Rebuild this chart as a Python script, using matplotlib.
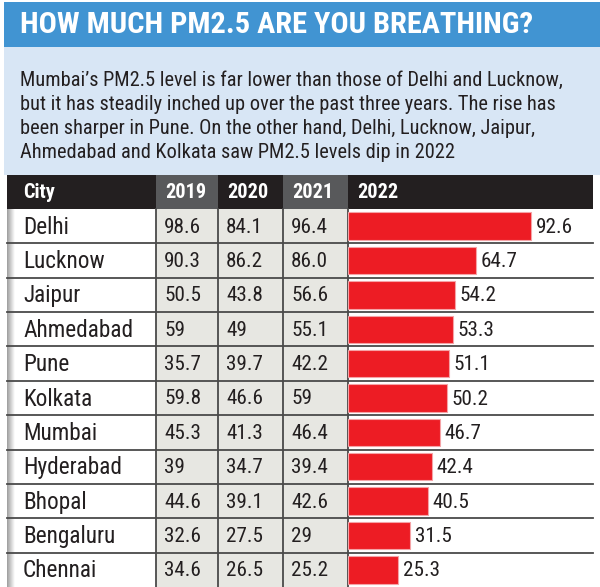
import numpy as np
import matplotlib
matplotlib.use('Agg')
from matplotlib import pyplot as plt
from matplotlib import font_manager as fm
from matplotlib.patches import Rectangle

# pick a narrow face if one is installed
names = {f.name for f in fm.fontManager.ttflist}
narrow = [n for n in ['Roboto Condensed', 'Liberation Sans Narrow', 'DejaVu Sans Condensed',
                      'Open Sans Condensed', 'Noto Sans Condensed', 'Roboto', 'Liberation Sans']
          if n in names]
plt.rcParams['font.family'] = narrow[:1] + ['DejaVu Sans']

# data
cities = ['Delhi', 'Lucknow', 'Jaipur', 'Ahmedabad', 'Pune', 'Kolkata',
          'Mumbai', 'Hyderabad', 'Bhopal', 'Bengaluru', 'Chennai']
pm_2019 = ['98.6', '90.3', '50.5', '59', '35.7', '59.8', '45.3', '39', '44.6', '32.6', '34.6']
pm_2020 = ['84.1', '86.2', '43.8', '49', '39.7', '46.6', '41.3', '34.7', '39.1', '27.5', '26.5']
pm_2021 = ['96.4', '86.0', '56.6', '55.1', '42.2', '59', '46.4', '39.4', '42.6', '29', '25.2']
pm_2022 = [92.6, 64.7, 54.2, 53.3, 51.1, 50.2, 46.7, 42.4, 40.5, 31.5, 25.3]
headers = ['City', '2019', '2020', '2021', '2022']

title = 'HOW MUCH PM2.5 ARE YOU BREATHING?'
blurb = ["Mumbai\u2019s PM2.5 level is far lower than those of Delhi and Lucknow,",
         "but it has steadily inched up over the past three years. The rise has",
         "been sharper in Pune. On the other hand, Delhi, Lucknow, Jaipur,",
         "Ahmedabad and Kolkata saw PM2.5 levels dip in 2022"]

W, H = 600, 587
fig = plt.figure(figsize=(6, 5.87), dpi=100)
ax = fig.add_axes([0, 0, 1, 1])
ax.set_xlim(0, W)
ax.set_ylim(H, 0)
ax.axis('off')
renderer = fig.canvas.get_renderer()


def fit_size(txt, target, weight='normal', base=14):
    t = fig.text(0, 0, txt, fontsize=base, fontweight=weight)
    w = t.get_window_extent(renderer).width
    t.remove()
    return base * target / w


dark = '#231f20'
fs_title = fit_size(title, 516, 'bold')
fs_blurb = fit_size(blurb[0], 546)
fs_city = fit_size('Ahmedabad', 110)
fs_num = fit_size('98.6', 37)
fs_head = fit_size('2019', 41, 'bold')

# title band and intro panel
ax.add_patch(Rectangle((4, 2), W - 4, 45, color='#4194d2', lw=0))
ax.add_patch(Rectangle((4, 47), W - 4, 128, color='#d8e6f5', lw=0))
ax.text(20, 25, title, color='white', fontsize=fs_title, fontweight='bold', va='center')
for i, line in enumerate(blurb):
    ax.text(20, 80 + i * 24.3, line, color=dark, fontsize=fs_blurb, va='center')

# table geometry
col_x = [7, 156, 218, 283, 348, 593]
head_top, head_bot = 175, 209
n = len(cities)
row_h = (H - head_bot) / n

head_cols = [dark, '#58595b', dark, '#58595b', dark]
head_pad = [16, 9, 9, 9, 9]
for i, h in enumerate(headers):
    ax.add_patch(Rectangle((col_x[i], head_top), col_x[i + 1] - col_x[i],
                           head_bot - head_top, color=head_cols[i], lw=0))
    ax.text(col_x[i] + head_pad[i], (head_top + head_bot) / 2 + 1, h, color='white',
            fontsize=fs_head, fontweight='bold', va='center')

# body backgrounds
ax.add_patch(Rectangle((col_x[0], head_bot), col_x[1] - col_x[0], H - head_bot,
                       color='white', lw=0))
ax.add_patch(Rectangle((col_x[1], head_bot), col_x[4] - col_x[1], H - head_bot,
                       color='#e7e7e2', lw=0))
grad = np.linspace(0.62, 1.0, 20).reshape(1, -1)
ax.imshow(grad, cmap='gray', vmin=0, vmax=1, aspect='auto',
          extent=(col_x[0], col_x[0] + 8, H, head_bot), zorder=1)

for k in range(1, n):
    y = head_bot + k * row_h
    ax.plot([col_x[0], col_x[5]], [y, y], color='#4a4a4a', lw=1.3, zorder=3)
for x in col_x[1:5]:
    ax.plot([x, x], [head_bot, H], color='#4a4a4a', lw=1.3, zorder=3)

for r in range(n):
    yc = head_bot + (r + 0.5) * row_h + 1
    ax.text(col_x[0] + 16, yc, cities[r], color=dark, fontsize=fs_city, va='center')
    for c, vals in enumerate([pm_2019, pm_2020, pm_2021]):
        ax.text(col_x[c + 1] + 8, yc, vals[r], color=dark, fontsize=fs_num, va='center')

# bars for 2022
scale = 1.977  # px per unit
bx = fig.add_axes([col_x[4] / W, 0, (col_x[5] - col_x[4]) / W, (H - head_bot) / H])
bx.set_xlim(0, (col_x[5] - col_x[4]) / scale)
bx.set_ylim(n - 0.5, -0.5)
bx.axis('off')
bx.patch.set_alpha(0)
ypos = np.arange(n)
bx.barh(ypos, pm_2022, height=0.8, left=0, color='#ed1c24',
        edgecolor='#f5a3a6', lw=0.8)
for y, v in zip(ypos, pm_2022):
    bx.text(v + 2.3, y + 0.03, f'{v:.1f}', color=dark, fontsize=fs_num, va='center')

fig.savefig('out.png', dpi=100)
